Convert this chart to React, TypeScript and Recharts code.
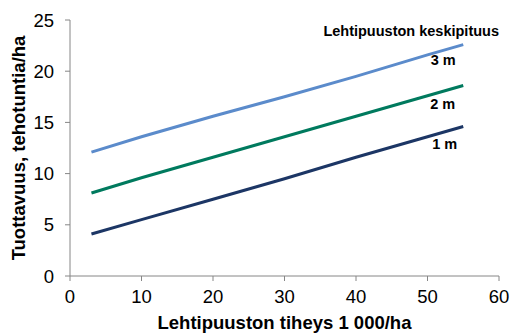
import React from 'react'
import {
  LineChart,
  Line,
  XAxis,
  YAxis,
  LabelList,
  Label,
} from 'recharts'

// Lehtipuuston tiheys, 1 000/ha
const density = [3, 10, 20, 30, 40, 50, 55]
// Tuottavuus by average height of the hardwood stand
const height3m = [12.1, 13.6, 15.6, 17.5, 19.5, 21.6, 22.6]
const height2m = [8.1, 9.6, 11.6, 13.6, 15.6, 17.6, 18.6]
const height1m = [4.1, 5.5, 7.5, 9.5, 11.6, 13.6, 14.6]

const xTicks = [0, 10, 20, 30, 40, 50, 60]
const yTicks = [0, 5, 10, 15, 20, 25]

const data = density.map((d, i) => ({
  density: d,
  h3: height3m[i],
  h2: height2m[i],
  h1: height1m[i],
}))

const FONT = 'Arial, "Liberation Sans", sans-serif'
const AXIS = '#868686'

const endLabel =
  (text: string, dx: number, dy: number) =>
  (props: any) => {
    const { x, y, index } = props
    if (index !== data.length - 1) return null
    return (
      <text
        x={x + dx}
        y={y + dy}
        textAnchor='middle'
        fontFamily={FONT}
        fontWeight='bold'
        fontSize={14.5}
        fill='#000'
      >
        {text}
      </text>
    )
  }

const App: React.FC = () => {
  return (
    <div style={{ position: 'absolute', left: 0, top: 0, width: 510, height: 334 }}>
      <LineChart
        width={510}
        height={334}
        data={data}
        margin={{ top: 20, right: 11, bottom: 0, left: 0 }}
      >
        <XAxis
          dataKey='density'
          type='number'
          domain={[0, 60]}
          ticks={xTicks}
          stroke={AXIS}
          tickSize={5}
          tickMargin={9}
          height={58}
          tick={{ fill: '#000', fontSize: 18.5, fontFamily: FONT }}
        >
          <Label
            value='Lehtipuuston tiheys 1 000/ha'
            position='insideBottom'
            offset={5}
            style={{ fontFamily: FONT, fontWeight: 'bold', fontSize: 18.5, fill: '#000' }}
          />
        </XAxis>
        <YAxis
          type='number'
          domain={[0, 25]}
          ticks={yTicks}
          stroke={AXIS}
          tickSize={5}
          tickMargin={11}
          width={70}
          tick={{ fill: '#000', fontSize: 18.5, fontFamily: FONT }}
        >
          <Label
            value='Tuottavuus, tehotuntia/ha'
            angle={-90}
            position='insideLeft'
            offset={18}
            style={{
              textAnchor: 'middle',
              fontFamily: FONT,
              fontWeight: 'bold',
              fontSize: 18.5,
              fill: '#000',
            }}
          />
        </YAxis>
        <Line
          dataKey='h3'
          stroke='#5B8BCB'
          strokeWidth={3}
          dot={false}
          isAnimationActive={false}
        >
          <LabelList dataKey='h3' content={endLabel('3 m', -20, 20.5)} />
        </Line>
        <Line
          dataKey='h2'
          stroke='#007A5E'
          strokeWidth={3}
          dot={false}
          isAnimationActive={false}
        >
          <LabelList dataKey='h2' content={endLabel('2 m', -20.5, 23)} />
        </Line>
        <Line
          dataKey='h1'
          stroke='#1C3665'
          strokeWidth={3}
          dot={false}
          isAnimationActive={false}
        >
          <LabelList dataKey='h1' content={endLabel('1 m', -18.5, 22.5)} />
        </Line>
      </LineChart>
      <div
        style={{
          position: 'absolute',
          right: 11,
          top: 23,
          fontFamily: FONT,
          fontWeight: 'bold',
          fontSize: 14.5,
          lineHeight: '17px',
          color: '#000',
          whiteSpace: 'nowrap',
        }}
      >
        Lehtipuuston keskipituus
      </div>
    </div>
  )
}

export default App
